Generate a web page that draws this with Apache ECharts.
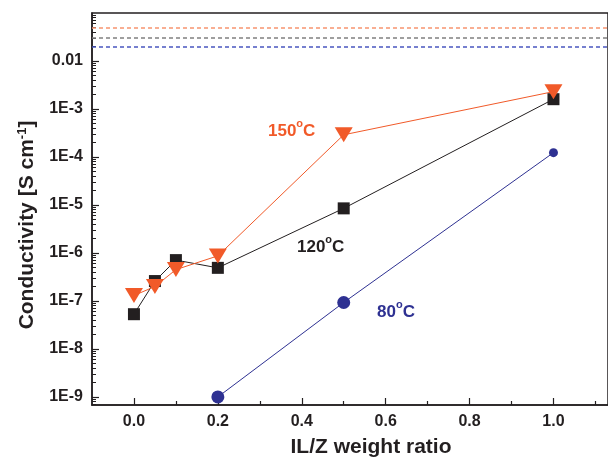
<!DOCTYPE html>
<html>
<head>
<meta charset="utf-8">
<script src="https://cdn.jsdelivr.net/npm/echarts@6/dist/echarts.min.js"></script>
<style>
  html, body { margin: 0; padding: 0; background: #fff; }
  #ec { width: 608px; height: 457px; }
</style>
</head>
<body>
<div id="ec"></div>
<script>
// IL/Z weight ratio
var ratio150 = [0, 0.05, 0.1, 0.2, 0.5, 1.0];
var sigma150 = [1.3e-7, 2.0e-7, 4.5e-7, 8.7e-7, 2.9e-4, 2.3e-3];
var ratio120 = [0, 0.05, 0.1, 0.2, 0.5, 1.0];
var sigma120 = [5.3e-8, 2.6e-7, 7.1e-7, 4.9e-7, 8.5e-6, 1.6e-3];
var ratio80 = [0.2, 0.5, 1.0];
var sigma80 = [1.0e-9, 9.3e-8, 1.23e-4];
// reference levels (dashed lines)
var refLevels = [0.0487, 0.0336, 0.0189];
var refColors = ["#f7946f", "#808080", "#4a57c0"];

var xLabels = [0, 0.2, 0.4, 0.6, 0.8, 1.0];
var xMinor = [0.1, 0.3, 0.5, 0.7, 0.9, 1.1];
var yLabels = [1e-9, 1e-8, 1e-7, 1e-6, 1e-5, 1e-4, 1e-3, 1e-2];

var yMinor = [];
for (var e = -10; e <= -2; e++) {
  for (var k = 2; k <= 9; k++) yMinor.push(k * Math.pow(10, e));
}

function pairs(xs, ys) {
  return xs.map(function (x, i) { return [x, ys[i]]; });
}

var dark = "#231f20";
var red = "#f15a29";
var blue = "#2e3192";

// text with a raised small part: "{n|main}{s|sup}"
function supRich(color, size) {
  return {
    n: { fontSize: size, fontWeight: "bold", fontFamily: "Liberation Sans", fill: color, lineHeight: 22, verticalAlign: "bottom" },
    s: { fontSize: Math.round(size * 0.62), fontWeight: "bold", fontFamily: "Liberation Sans", fill: color, lineHeight: 12, verticalAlign: "top" }
  };
}

var myChart = echarts.init(document.getElementById("ec"), null, { renderer: "canvas" });

myChart.setOption({
  animation: false,
  backgroundColor: "#fff",
  grid: {
    left: 92, top: 13, right: -4, bottom: 52,
    show: true, borderColor: dark, borderWidth: 1.5
  },
  xAxis: [
    {
      type: "value", min: -0.1, max: 1.13,
      axisLine: { onZero: false, lineStyle: { color: dark, width: 1.5 } },
      axisTick: { inside: true, length: 7, customValues: xLabels, lineStyle: { color: dark, width: 1.2 } },
      axisLabel: {
        customValues: xLabels, margin: 9, fontSize: 16,
        fontFamily: "Liberation Sans", fontWeight: "bold", color: dark,
        formatter: function (v) { return v.toFixed(1); }
      },
      splitLine: { show: false }
    },
    {
      type: "value", min: -0.1, max: 1.13, position: "bottom",
      axisLine: { show: false, onZero: false },
      axisTick: { inside: true, length: 4, customValues: xMinor, lineStyle: { color: dark, width: 1.2 } },
      axisLabel: { show: false },
      splitLine: { show: false }
    }
  ],
  yAxis: [
    {
      type: "log", logBase: 10, min: 6.8e-10, max: 0.1,
      axisLine: { show: true, onZero: false, lineStyle: { color: dark, width: 1.5 } },
      axisTick: { inside: true, length: 7, customValues: yLabels, lineStyle: { color: dark, width: 1.2 } },
      axisLabel: {
        customValues: yLabels, margin: 9, fontSize: 16,
        fontFamily: "Liberation Sans", fontWeight: "bold", color: dark,
        formatter: function (v) {
          var p = Math.round(Math.log10(v));
          return p === -2 ? "0.01" : "1E" + p;
        }
      },
      splitLine: { show: false }
    },
    {
      type: "log", logBase: 10, min: 6.8e-10, max: 0.1, position: "left",
      axisLine: { show: false, onZero: false },
      axisTick: { inside: true, length: 4, customValues: yMinor, lineStyle: { color: dark, width: 1 } },
      axisLabel: { show: false },
      splitLine: { show: false }
    }
  ],
  series: [
    {
      name: "80C", type: "line", data: pairs(ratio80, sigma80),
      symbol: "circle",
      symbolSize: function (v, p) { return p.dataIndex === 2 ? 9 : 13; },
      lineStyle: { color: blue, width: 1 },
      itemStyle: { color: blue },
      markLine: {
        silent: true, symbol: "none", label: { show: false },
        data: refLevels.map(function (v, i) {
          return { yAxis: v, lineStyle: { color: refColors[i], type: [4, 3], width: 1.5 } };
        })
      }
    },
    {
      name: "120C", type: "line", data: pairs(ratio120, sigma120),
      symbol: "rect", symbolSize: 12,
      lineStyle: { color: dark, width: 1 },
      itemStyle: { color: dark }
    },
    {
      name: "150C", type: "line", data: pairs(ratio150, sigma150),
      symbol: "triangle", symbolRotate: 180, symbolSize: [18, 15],
      lineStyle: { color: red, width: 1 },
      itemStyle: { color: red }
    }
  ],
  graphic: [
    {
      type: "text", x: 268, y: 129,
      style: { text: "{n|150}{s|o}{n|C}", verticalAlign: "middle", rich: supRich(red, 17) }
    },
    {
      type: "text", x: 297, y: 245,
      style: { text: "{n|120}{s|o}{n|C}", verticalAlign: "middle", rich: supRich(dark, 17) }
    },
    {
      type: "text", x: 377, y: 310,
      style: { text: "{n|80}{s|o}{n|C}", verticalAlign: "middle", rich: supRich(blue, 17) }
    },
    {
      type: "text", x: 371, y: 447,
      style: {
        text: "IL/Z weight ratio", fill: dark, font: "bold 21px Liberation Sans",
        align: "center", verticalAlign: "middle"
      }
    },
    {
      type: "text", x: 27, y: 225, rotation: Math.PI / 2,
      style: {
        text: "{n|Conductivity [S cm}{s|-1}{n|]}", align: "center", verticalAlign: "middle",
        rich: supRich(dark, 21)
      }
    }
  ]
});
</script>
</body>
</html>
